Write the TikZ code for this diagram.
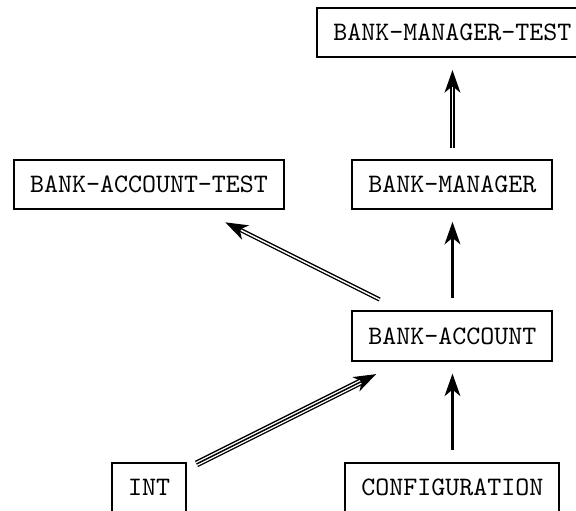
\documentclass[tikz,border=0pt]{standalone}
\usetikzlibrary{arrows.meta}
\tikzset{
  module/.style={draw, line width=0.75pt, font=\ttfamily, inner xsep=6pt, minimum height=18.5pt},
  dep/.style={-{Stealth[length=8.5pt,width=6pt,inset=2.5pt,line width=0pt]}},
}
\begin{document}
\begin{tikzpicture}
\useasboundingbox (-1.964,0.428) rectangle (5.628,-6.307);
\node[module] (bmt) at (4,0) {BANK-MANAGER-TEST};
\node[module] (bat) at (0,-2) {BANK-ACCOUNT-TEST};
\node[module] (bm) at (4,-2) {BANK-MANAGER};
\node[module] (ba) at (4,-4) {BANK-ACCOUNT};
\node[module] (int) at (0,-6) {INT};
\node[module] (conf) at (4,-6) {CONFIGURATION};
% single
\draw[dep, line width=0.8pt, shorten <=4.5pt, shorten >=4.5pt] (conf) -- (ba);
\draw[dep, line width=0.8pt, shorten <=4.5pt, shorten >=4.5pt] (ba) -- (bm);
% double
\draw[dep, line width=1.6pt, shorten <=4pt, shorten >=4.5pt] (bm) -- (bmt);
\draw[white, line width=0.55pt, shorten <=4pt, shorten >=11pt] (bm) -- (bmt);
\draw[dep, line width=1.6pt, shorten <=9pt, shorten >=10.5pt] (ba) -- (bat);
\draw[white, line width=0.55pt, shorten <=9pt, shorten >=17pt] (ba) -- (bat);
% triple
\draw[dep, line width=2.6pt, shorten <=4pt, shorten >=10.5pt] (int) -- (ba);
\draw[draw=white, double=black, line width=0.5pt, double distance=0.55pt, shorten <=4pt, shorten >=17pt] (int) -- (ba);
\end{tikzpicture}
\end{document}
